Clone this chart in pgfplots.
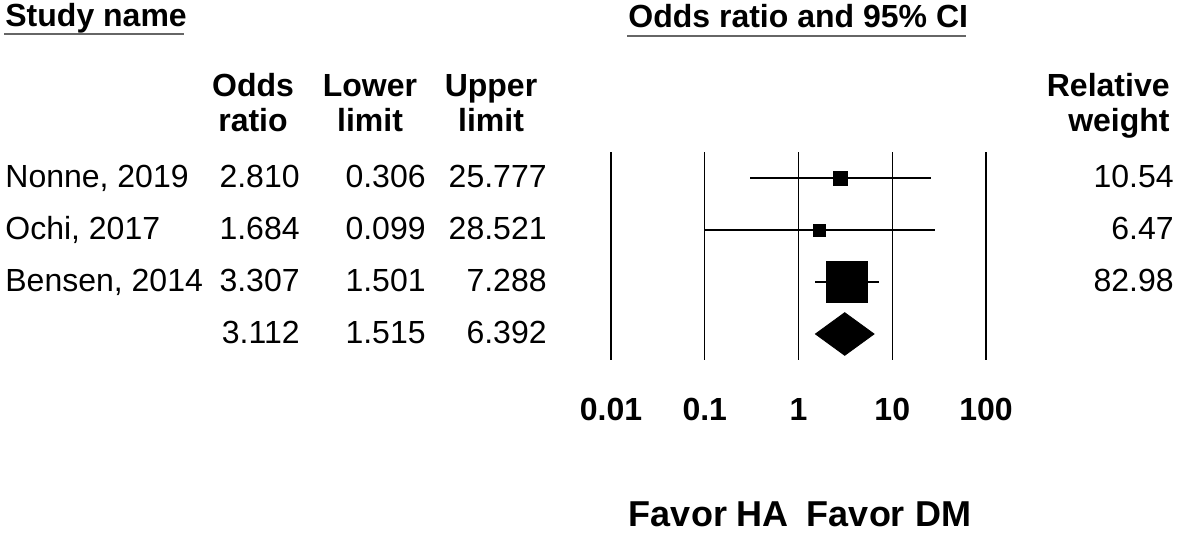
\documentclass[border=0pt]{standalone}
\usepackage{fontspec}
\setmainfont{Liberation Sans}
\usepackage{pgfplots}
\pgfplotsset{compat=1.18}

\begin{document}
\begin{tikzpicture}
% page = 1181 x 533 px, 1 px = 0.5pt
\path[use as bounding box] (0pt,0pt) rectangle (590.5pt,-266.5pt);

\begin{axis}[
    at={(305.5pt,-180pt)}, anchor=south west,
    scale only axis,
    width=187.5pt, height=104pt,
    xmode=log,
    xmin=0.01, xmax=100,
    ymin=0.5, ymax=4.5,
    xtick={0.01,0.1,1,10,100},
    xticklabels={0.01,0.1,1,10,100},
    minor xtick={},
    ytick=\empty,
    axis line style={draw=none},
    major tick length=0pt,
    minor tick length=0pt,
    xmajorgrids,
    major grid style={black, line width=0.65pt},
    xticklabel style={anchor=base, yshift=-30.5pt,
        font=\bfseries\fontsize{16}{19}\selectfont},
    clip=false,
]
% confidence intervals
\addplot[black, line width=1pt] coordinates {(0.306,4) (25.777,4)};
\addplot[black, line width=1pt] coordinates {(0.099,3) (28.521,3)};
\addplot[black, line width=1pt] coordinates {(1.501,2) (7.288,2)};
% point estimates, box size ~ relative weight
\addplot[only marks, mark=square*, mark size=3.5pt, black] coordinates {(2.810,4)};
\addplot[only marks, mark=square*, mark size=3pt, black] coordinates {(1.684,3)};
\addplot[only marks, mark=square*, mark size=10.3pt, black] coordinates {(3.307,2)};
% pooled estimate
\addplot[fill=black, draw=black] coordinates {(1.515,1) (3.112,1.41) (6.392,1) (3.112,0.59)} -- cycle;
\end{axis}

\begin{scope}[x=0.5pt, y=-0.5pt,
    every node/.style={inner sep=0pt, font=\fontsize{16}{19}\selectfont}]
% column headers
\node[anchor=base west, font=\bfseries\fontsize{16}{19}\selectfont] at (5,27) {Study name};
\draw[gray!80!black, line width=1pt] (4,34) -- (184,34);
\node[anchor=base west, font=\bfseries\fontsize{16}{19}\selectfont] at (628,28) {Odds ratio and 95\% CI};
\draw[gray!80!black, line width=1pt] (627,36) -- (966,36);

\begin{scope}[every node/.append style={font=\bfseries\fontsize{16}{19}\selectfont}]
\node[anchor=base] at (253,97) {Odds};
\node[anchor=base] at (253,132) {ratio};
\node[anchor=base] at (370,97) {Lower};
\node[anchor=base] at (370,132) {limit};
\node[anchor=base] at (491,97) {Upper};
\node[anchor=base] at (491,132) {limit};
\node[anchor=base east] at (1170,97) {Relative};
\node[anchor=base east] at (1170,132) {weight};
\end{scope}

% study rows
\node[anchor=base west] at (5,188) {Nonne, 2019};
\node[anchor=base east] at (300,188) {2.810};
\node[anchor=base east] at (426,188) {0.306};
\node[anchor=base east] at (547,188) {25.777};
\node[anchor=base east] at (1174,188) {10.54};

\node[anchor=base west] at (5,240) {Ochi, 2017};
\node[anchor=base east] at (300,240) {1.684};
\node[anchor=base east] at (426,240) {0.099};
\node[anchor=base east] at (547,240) {28.521};
\node[anchor=base east] at (1174,240) {6.47};

\node[anchor=base west] at (5,292) {Bensen, 2014};
\node[anchor=base east] at (300,292) {3.307};
\node[anchor=base east] at (426,292) {1.501};
\node[anchor=base east] at (547,292) {7.288};
\node[anchor=base east] at (1174,292) {82.98};

\node[anchor=base east] at (300,344) {3.112};
\node[anchor=base east] at (426,344) {1.515};
\node[anchor=base east] at (547,344) {6.392};

% favours
\node[anchor=base, font=\bfseries\fontsize{18}{21}\selectfont] at (800,526) {Favor HA\hspace{9pt}Favor DM};
\end{scope}
\end{tikzpicture}
\end{document}
